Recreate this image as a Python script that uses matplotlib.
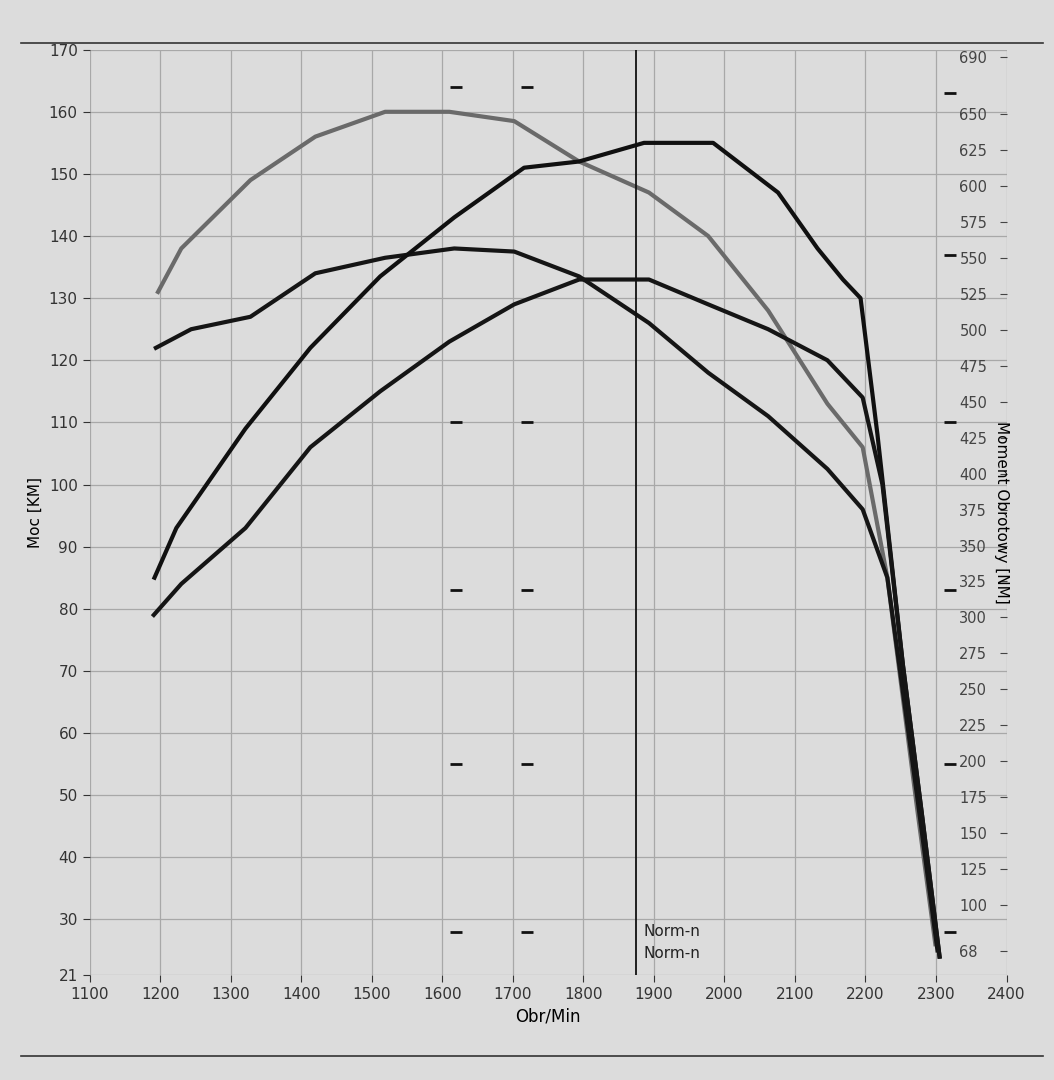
import matplotlib
matplotlib.use("Agg")
import matplotlib.pyplot as plt
import numpy as np

gray_x = [1197,1230,1328,1420,1519,1610,1702,1794,1893,1977,2062,2146,2196,2231,2273,2299]
gray_y = [131,138,149,156,160,160,158.5,152,147,140,128,113,106,85,48,26]
a_x = [1194,1244,1328,1420,1519,1617,1702,1794,1893,1977,2062,2146,2196,2231,2273,2302]
a_y = [122,125,127,134,136.5,138,137.5,133.5,126,118,111,102.5,96,85,50,25]
b_x = [1192,1223,1321,1413,1512,1617,1716,1794,1886,1984,2076,2132,2168,2193,2217,2253,2281,2305]
b_y = [85,93,109,122,133.5,143,151,152,155,155,147,138,133,130,108,71,46,24]
c_x = [1191,1230,1321,1413,1512,1610,1702,1794,1893,1977,2062,2146,2196,2224,2253,2281,2305]
c_y = [79,84,93,106,115,123,129,133,133,129,125,120,114,100,71,46,24]
left_ticks = [21,30,40,50,60,70,80,90,100,110,120,130,140,150,160,170]
right_ticks = [68,100,125,150,175,200,225,250,275,300,325,350,375,400,425,450,475,500,525,550,575,600,625,650,690]
x_ticks = list(range(1100,2401,100))
norm_x = 1875
dash_x = [1620,1620,1620,1620,1620,1720,1720,1720,1720,1720,2320,2320,2320,2320,2320,2320]
dash_y = [164,110,83,55,28,164,110,83,55,28,163,137,110,83,55,28]

fig = plt.figure(figsize=(10.54,10.8), dpi=100, facecolor="#dcdcdc")
ax = fig.add_axes([0.085,0.097,0.87,0.857])
ax.set_facecolor("#dcdcdc")
ax.set_xlim(1100,2400); ax.set_ylim(21,170)
ax.set_xticks(x_ticks); ax.set_yticks(left_ticks)
ax.grid(True, color="#a8a8a8", lw=0.9)
for s in ["top","right","bottom","left"]:
    ax.spines[s].set_visible(False)
ax.tick_params(colors="#333333", labelsize=11, length=5)
ax.plot(gray_x, gray_y, color="#6a6a6a", lw=3)
ax.plot(a_x, a_y, color="#151515", lw=3)
ax.plot(b_x, b_y, color="#101010", lw=3)
ax.plot(c_x, c_y, color="#151515", lw=3)
ax.axvline(norm_x, color="#111111", lw=1.3)
ax.text(norm_x+10, 28, "Norm-n", fontsize=11, color="#222222", va="center")
ax.text(norm_x+10, 24.5, "Norm-n", fontsize=11, color="#222222", va="center")
ax.plot(dash_x, dash_y, ls="none", marker="_", ms=8, mew=2, color="#111111")
ax.set_ylabel("Moc [KM]", fontsize=11)
ax.set_xlabel("Obr/Min", fontsize=12)
ax2 = ax.twinx()
ax2.set_ylim(51,695)
ax2.set_yticks(right_ticks)
for s in ["top","right","bottom","left"]:
    ax2.spines[s].set_visible(False)
ax2.tick_params(colors="#444444", labelsize=10.5, length=5, direction="in", pad=-34)
ax2.set_ylabel("Moment Obrotowy [NM]", fontsize=11, rotation=-90, labelpad=2)
fig.lines.append(plt.Line2D([0.02,0.99],[0.96,0.96], transform=fig.transFigure, color="#333333", lw=1.2))
fig.lines.append(plt.Line2D([0.02,0.99],[0.022,0.022], transform=fig.transFigure, color="#333333", lw=1.2))
fig.savefig("out.png", dpi=100, facecolor=fig.get_facecolor())
